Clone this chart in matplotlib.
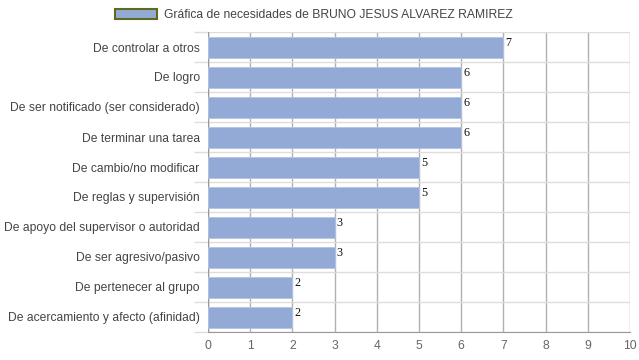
import numpy as np
import matplotlib.pyplot as plt
from matplotlib.patches import Patch

# datos
categorias = ["De controlar a otros", "De logro", "De ser notificado (ser considerado)",
              "De terminar una tarea", "De cambio/no modificar", "De reglas y supervisión",
              "De apoyo del supervisor o autoridad", "De ser agresivo/pasivo",
              "De pertenecer al grupo", "De acercamiento y afecto (afinidad)"]
valores = [7, 6, 6, 6, 5, 5, 3, 3, 2, 2]
ticks_x = list(range(0, 11))
titulo = "Gráfica de necesidades de BRUNO JESUS ALVAREZ RAMIREZ"

plt.rcParams['font.family'] = ['Liberation Sans', 'DejaVu Sans']

fig = plt.figure(figsize=(6.39, 3.6), dpi=100)
ax = fig.add_axes([208/639, 1-332/360, (630-208)/639, (332-32)/360])

y = np.arange(len(categorias))
color_barra = '#94aad6'
ax.barh(y, valores, height=0.7, color=color_barra, edgecolor='#b4c4e4', linewidth=0.6, zorder=3)

for yi, v in zip(y, valores):
    ax.text(v + 0.05, yi - 0.12, str(v), family='Liberation Serif', fontsize=8.7,
            color='#111111', va='center', ha='left', zorder=4)

ax.set_xlim(0, 10)
ax.set_ylim(len(categorias) - 0.5, -0.5)
ax.set_xticks(ticks_x)
ax.set_yticks(y)
ax.set_yticklabels(categorias, fontsize=8.7, color='#444444')
ax.tick_params(axis='y', length=0, pad=6)
ax.tick_params(axis='x', length=0, pad=6, labelsize=8.7, labelcolor='#666666')

# rejilla
ax.set_yticks(np.arange(-0.5, len(categorias), 1), minor=True)
ax.tick_params(axis='y', which='minor', length=10, color='#dddddd', width=1)
ax.grid(axis='y', which='minor', color='#dddddd', linewidth=1, zorder=0)
ax.grid(axis='x', which='major', color='#b0b0b0', linewidth=1, zorder=0)
ax.grid(axis='y', which='major', visible=False)

for s in ['top', 'right', 'left']:
    ax.spines[s].set_visible(False)
ax.spines['bottom'].set_color('#999999')
ax.axvline(0, color='#999999', linewidth=1, zorder=2)

handle = Patch(facecolor=color_barra, edgecolor='#5e6b1f', linewidth=1.5)
fig.legend([handle], [titulo], loc='center', bbox_to_anchor=(314/639, 1-15/360),
           frameon=False, fontsize=8.7, labelcolor='#444444',
           handlelength=3.4, handleheight=0.9, handletextpad=0.6)

fig.savefig('out.png', dpi=100)
